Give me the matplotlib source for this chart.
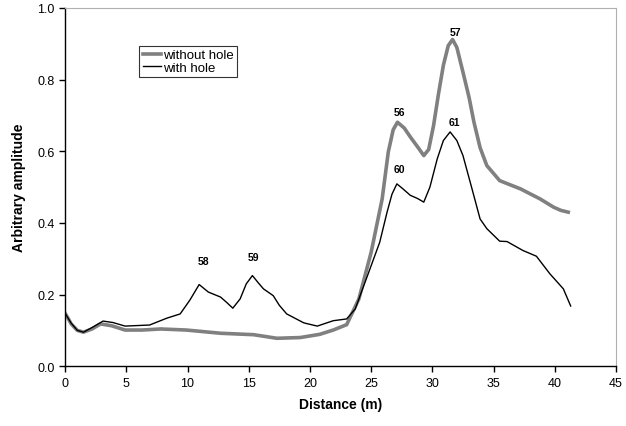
import matplotlib
matplotlib.use("Agg")
import matplotlib.pyplot as plt

plt.rcParams["font.family"] = ["Liberation Sans", "DejaVu Sans"]

# "without hole" (thick grey)
dist_without = [0.0, 0.5, 1.0, 1.5, 2.2, 2.9, 3.8, 4.9, 6.3, 7.8, 9.9, 12.7, 15.4,
                17.3, 19.2, 20.8, 21.9, 23.0, 24.0, 25.0, 25.9, 26.4, 26.8, 27.15,
                27.7, 28.2, 28.8, 29.3, 29.7, 30.1, 30.5, 30.9, 31.3, 31.65, 32.0,
                32.5, 33.0, 33.4, 33.9, 34.45, 35.5, 37.2, 38.8, 39.9, 40.5, 41.1]
amp_without = [0.148, 0.118, 0.100, 0.095, 0.104, 0.118, 0.113, 0.101, 0.101, 0.104,
               0.101, 0.092, 0.088, 0.078, 0.080, 0.089, 0.101, 0.116, 0.188, 0.318,
               0.467, 0.598, 0.660, 0.681, 0.665, 0.640, 0.612, 0.588, 0.605, 0.672,
               0.760, 0.840, 0.895, 0.912, 0.890, 0.821, 0.750, 0.681, 0.610, 0.560,
               0.518, 0.495, 0.467, 0.444, 0.435, 0.430]

# "with hole" (thin black)
dist_with = [0.0, 0.5, 1.0, 1.5, 2.2, 3.1, 3.9, 4.9, 6.9, 8.3, 9.4, 10.2, 10.95,
             11.7, 12.7, 13.2, 13.7, 14.3, 14.8, 15.3, 15.8, 16.2, 17.0, 17.5, 18.1,
             19.5, 20.6, 21.9, 23.0, 23.7, 24.8, 25.7, 26.3, 26.7, 27.1, 27.6, 28.2,
             28.8, 29.3, 29.8, 30.4, 30.9, 31.45, 32.0, 32.5, 33.2, 33.9, 34.45, 35.5,
             36.1, 37.4, 38.5, 39.6, 40.7, 41.3]
amp_with = [0.148, 0.120, 0.100, 0.095, 0.108, 0.126, 0.122, 0.112, 0.115, 0.134,
            0.146, 0.185, 0.228, 0.207, 0.193, 0.178, 0.162, 0.188, 0.230, 0.253,
            0.232, 0.216, 0.197, 0.170, 0.146, 0.121, 0.112, 0.127, 0.132, 0.160,
            0.262, 0.346, 0.430, 0.480, 0.509, 0.495, 0.477, 0.468, 0.458, 0.500,
            0.579, 0.630, 0.654, 0.630, 0.588, 0.500, 0.411, 0.384, 0.349, 0.348,
            0.323, 0.307, 0.258, 0.216, 0.168]

# peak labels
peak_labels = ["58", "59", "56", "57", "60", "61"]
peak_x = [11.3, 15.4, 27.3, 31.9, 27.3, 31.8]
peak_y = [0.293, 0.304, 0.711, 0.933, 0.551, 0.681]

fig = plt.figure(figsize=(6.26, 4.27), dpi=100)
ax = fig.add_axes([0.104, 0.140, 0.880, 0.839])

ax.plot(dist_without, amp_without, color="#808080", lw=2.6, label="without hole",
        solid_joinstyle="round")
ax.plot(dist_with, amp_with, color="black", lw=1.0, label="with hole",
        solid_joinstyle="round")

for lab, xx, yy in zip(peak_labels, peak_x, peak_y):
    ax.text(xx, yy, lab, ha="center", va="center", fontsize=7.5, fontweight="bold")

ax.set_xlim(0, 45)
ax.set_ylim(0, 1.0)
ax.set_xticks(range(0, 46, 5))
ax.set_yticks([0.0, 0.2, 0.4, 0.6, 0.8, 1.0])
ax.set_yticklabels(["0.0", "0.2", "0.4", "0.6", "0.8", "1.0"])
ax.tick_params(direction="out", labelsize=9, length=4, width=1)
ax.set_xlabel("Distance (m)", fontsize=10, fontweight="bold", labelpad=6)
ax.set_ylabel("Arbitrary amplitude", fontsize=10, fontweight="bold", labelpad=8)

for side in ("top", "right"):
    ax.spines[side].set_color("#b0b0b0")
for side in ("left", "bottom"):
    ax.spines[side].set_color("black")
    ax.spines[side].set_linewidth(1.0)

leg = ax.legend(loc="upper left", bbox_to_anchor=(0.135, 0.895), fontsize=9.5,
                frameon=True, fancybox=False, borderpad=0.25, labelspacing=0.05,
                handlelength=1.4, handletextpad=0.15, borderaxespad=0)
leg.get_frame().set_edgecolor("black")
leg.get_frame().set_linewidth(0.8)

fig.savefig("out.png", dpi=100)
